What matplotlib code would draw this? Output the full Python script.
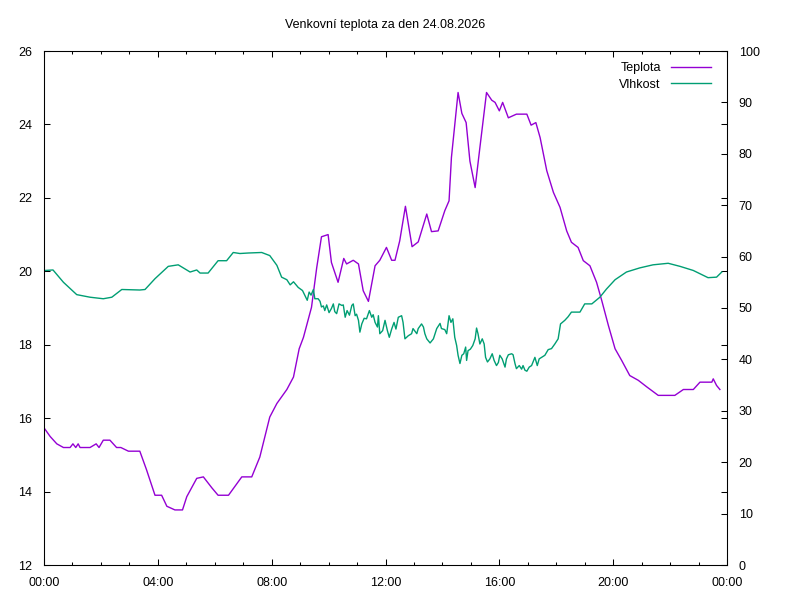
import matplotlib
matplotlib.use("Agg")
import matplotlib.pyplot as plt
from matplotlib.ticker import MultipleLocator, FuncFormatter

plt.rcParams['font.family'] = ['Liberation Sans', 'DejaVu Sans']

# cas v minutach od pulnoci
teplota_t = [2, 13, 27, 41, 55, 61, 67, 72, 76, 97, 110, 116, 125, 139, 153, 162,
             178, 202, 216, 234, 248, 259, 276, 292, 301, 322, 336, 354, 367, 389,
             417, 438, 455, 476, 491, 512, 526, 538, 547, 564, 575, 585, 599, 606,
             620, 632, 638, 652, 663, 673, 684, 698, 708, 722, 733, 740, 750, 762,
             776, 789, 807, 817, 831, 845, 854, 859, 873, 881, 890, 898, 909, 919,
             933, 944, 951, 960, 967, 979, 996, 1018, 1027, 1037, 1046, 1060, 1074,
             1088, 1102, 1112, 1126, 1137, 1151, 1165, 1176, 1190, 1204, 1218, 1235,
             1253, 1271, 1295, 1330, 1348, 1369, 1383, 1408, 1411, 1418, 1425]
teplota = [15.7, 15.5, 15.3, 15.2, 15.2, 15.3, 15.2, 15.3, 15.2, 15.2, 15.3, 15.2,
           15.4, 15.4, 15.2, 15.2, 15.1, 15.1, 14.6, 13.9, 13.9, 13.6, 13.5, 13.5,
           13.86, 14.36, 14.4, 14.1, 13.9, 13.9, 14.4, 14.4, 14.94, 16.03, 16.4,
           16.78, 17.12, 17.89, 18.2, 19.02, 20.1, 20.94, 21.0, 20.24, 19.7, 20.35,
           20.2, 20.3, 20.2, 19.47, 19.18, 20.15, 20.3, 20.65, 20.3, 20.3, 20.83,
           21.77, 20.67, 20.8, 21.56, 21.08, 21.1, 21.65, 21.92, 23.1, 24.87, 24.3,
           24.05, 23.0, 22.28, 23.37, 24.87, 24.66, 24.6, 24.37, 24.6, 24.18, 24.28,
           24.28, 23.98, 24.05, 23.64, 22.74, 22.15, 21.74, 21.1, 20.79, 20.65,
           20.29, 20.15, 19.7, 19.2, 18.52, 17.89, 17.57, 17.16, 17.03, 16.85,
           16.62, 16.62, 16.78, 16.78, 16.98, 16.98, 17.07, 16.89, 16.78]

vlhkost_t = [2, 19, 41, 69, 97, 125, 143, 164, 202, 213, 234, 262, 283, 308, 322,
             329, 346, 367, 385, 399, 413, 431, 459, 476, 491, 501, 512, 519, 526,
             536, 545, 555, 559, 563, 568, 571, 578, 582, 585, 589, 592, 596, 601,
             606, 610, 613, 617, 622, 628, 631, 635, 639, 644, 649, 652, 656, 659,
             663, 666, 670, 675, 680, 686, 691, 694, 698, 703, 705, 708, 714, 719,
             724, 728, 733, 738, 742, 747, 754, 757, 761, 768, 775, 778, 786, 789,
             796, 800, 803, 807, 814, 821, 828, 835, 838, 845, 849, 854, 858, 862,
             866, 870, 873, 877, 881, 885, 889, 891, 894, 899, 904, 909, 912, 915,
             919, 924, 928, 931, 935, 940, 945, 949, 954, 958, 961, 966, 972, 975,
             979, 986, 989, 993, 996, 1002, 1007, 1010, 1014, 1018, 1023, 1028, 1035,
             1040, 1044, 1049, 1056, 1063, 1070, 1077, 1084, 1089, 1098, 1105, 1112,
             1123, 1130, 1140, 1155, 1172, 1186, 1204, 1228, 1256, 1284, 1316, 1341,
             1369, 1400, 1418, 1429]
vlhkost = [57.3, 57.4, 55.0, 52.6, 52.1, 51.8, 52.1, 53.6, 53.5, 53.6, 55.7, 58.1,
           58.4, 57.0, 57.4, 56.8, 56.8, 59.2, 59.2, 60.8, 60.6, 60.7, 60.8, 60.2,
           58.3, 56.0, 55.5, 54.5, 55.1, 54.0, 53.4, 51.5, 53.1, 52.5, 53.6, 51.8,
           51.8, 51.3, 50.2, 50.4, 49.5, 50.6, 49.1, 49.9, 50.8, 49.3, 48.9, 50.8,
           50.5, 50.6, 48.2, 49.5, 48.6, 50.5, 50.8, 48.5, 48.8, 47.6, 45.3, 46.9,
           48.0, 47.9, 49.5, 48.2, 48.7, 47.2, 46.3, 48.5, 45.0, 45.6, 47.6, 45.6,
           44.3, 45.9, 47.2, 45.9, 48.2, 48.5, 47.2, 44.0, 44.6, 45.0, 46.0, 45.0,
           46.0, 46.9, 46.3, 45.0, 44.0, 43.2, 44.0, 46.0, 47.0, 46.0, 45.8, 45.0,
           48.5, 47.2, 47.9, 44.3, 42.7, 40.8, 39.2, 40.8, 41.1, 42.4, 39.8, 41.7,
           42.0, 42.7, 44.0, 46.1, 45.0, 43.0, 44.0, 43.0, 40.4, 39.5, 40.1, 41.1,
           39.8, 38.8, 39.4, 40.8, 40.1, 38.5, 40.1, 40.9, 41.1, 40.9, 39.2, 38.2,
           38.8, 38.1, 38.8, 37.9, 37.7, 38.5, 38.8, 40.4, 38.8, 40.1, 40.4, 40.8,
           41.9, 42.1, 43.0, 44.0, 46.9, 47.6, 48.3, 49.2, 49.2, 49.2, 50.8, 50.8,
           52.1, 53.7, 55.5, 57.0, 57.8, 58.4, 58.7, 58.1, 57.3, 55.9, 56.0, 57.0]

titulek = "Venkovní teplota za den 24.08.2026"

fig = plt.figure(figsize=(8, 6), dpi=100)
ax = fig.add_axes([44 / 800, 35 / 600, 683 / 800, 514 / 600])
ax2 = ax.twinx()

l1, = ax.plot(teplota_t, teplota, color='#9400D3', lw=1.0, label='Teplota')
l2, = ax2.plot(vlhkost_t, vlhkost, color='#009E73', lw=1.0, label='Vlhkost')

ax.set_xlim(0, 1440)
ax.set_ylim(12, 26)
ax2.set_ylim(0, 100)
ax.xaxis.set_major_locator(MultipleLocator(240))
ax.xaxis.set_minor_locator(MultipleLocator(60))
ax.xaxis.set_major_formatter(FuncFormatter(lambda v, p: "%02d:%02d" % ((int(v) // 60) % 24, int(v) % 60)))
ax.yaxis.set_major_locator(MultipleLocator(2))
ax2.yaxis.set_major_locator(MultipleLocator(10))

ax.tick_params(which='both', direction='in', top=True, right=True, labelsize=9, width=0.75)
ax.tick_params(which='major', length=4.5)
ax.tick_params(which='minor', length=2.2)
ax.tick_params(axis='y', pad=8.5)
ax.tick_params(axis='x', pad=8.5)
ax2.tick_params(direction='in', length=4.5, width=0.75, labelsize=9, pad=8.5)
for a in (ax, ax2):
    for s in a.spines.values():
        s.set_linewidth(0.75)

fig.text(385 / 800, 1 - 25 / 600, titulek, ha='center', va='center', fontsize=9)

ax.legend([l1, l2], ['Teplota', 'Vlhkost'], loc='upper right', frameon=False,
          bbox_to_anchor=(1 - 5 / 683, 1),
          markerfirst=False, fontsize=9, handlelength=3.2, handletextpad=0.8,
          labelspacing=0.35, borderaxespad=0.3, borderpad=0.6)

fig.savefig('out.png', dpi=100)
